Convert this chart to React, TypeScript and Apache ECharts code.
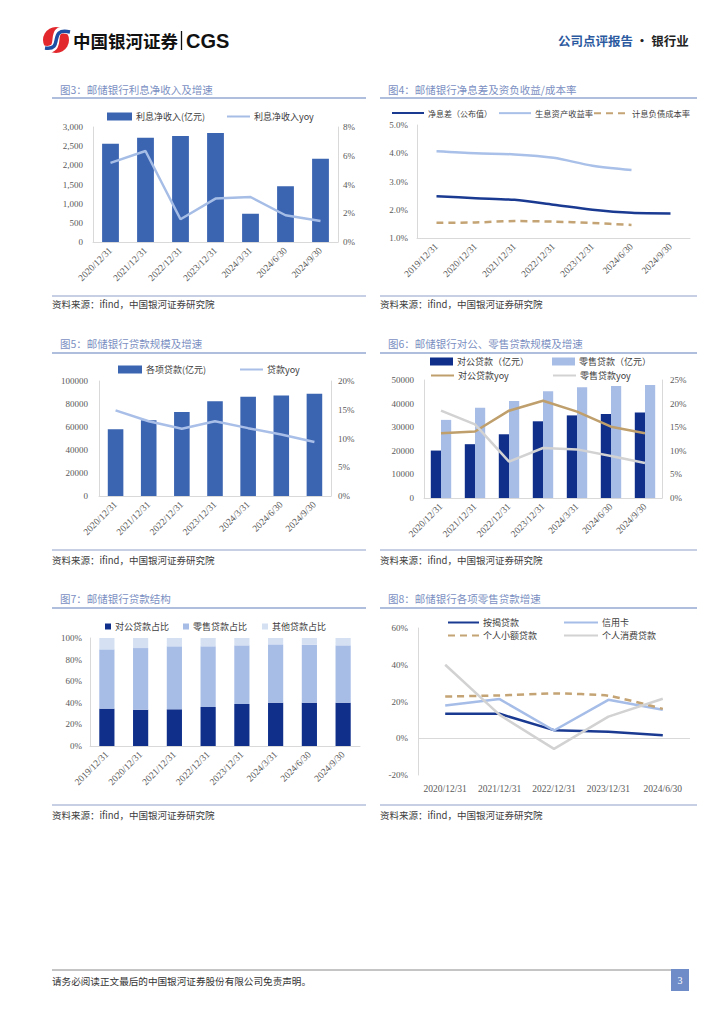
import React, { useEffect, useRef } from "react";
import * as echarts from "echarts";

// ---------- data ----------
const c3Cats = ["2020/12/31", "2021/12/31", "2022/12/31", "2023/12/31", "2024/3/31", "2024/6/30", "2024/9/30"];
const c3Nii = [2565, 2722, 2765, 2843, 739, 1452, 2174];
const c3Yoy = [5.5, 6.33, 1.58, 3.02, 3.13, 1.86, 1.46];

const c4Cats = ["2019/12/31", "2020/12/31", "2021/12/31", "2022/12/31", "2023/12/31", "2024/6/30", "2024/9/30"];
const c4Nim = [2.48, 2.41, 2.35, 2.18, 2.0, 1.89, 1.87];
const c4Yield = [4.07, 4.0, 3.96, 3.84, 3.56, 3.41];
const c4Cost = [1.54, 1.55, 1.6, 1.58, 1.53, 1.46];

const c5Cats = ["2020/12/31", "2021/12/31", "2022/12/31", "2023/12/31", "2024/3/31", "2024/6/30", "2024/9/30"];
const c5Loans = [58000, 65800, 73000, 82300, 86400, 87500, 89000];
const c5Yoy = [14.9, 13.0, 11.7, 13.0, 11.8, 10.7, 9.4];

const c6Cats = ["2020/12/31", "2021/12/31", "2022/12/31", "2023/12/31", "2024/3/31", "2024/6/30", "2024/9/30"];
const c6Corp = [20100, 22800, 27000, 32500, 35000, 35600, 36200];
const c6Retail = [33100, 38200, 41100, 45200, 46900, 47500, 47900];
const c6CorpYoy = [13.7, 14.1, 18.5, 20.6, 18.3, 15.1, 13.7];
const c6RetailYoy = [18.5, 15.6, 7.7, 10.6, 10.3, 8.9, 7.4];

const c7Cats = ["2019/12/31", "2020/12/31", "2021/12/31", "2022/12/31", "2023/12/31", "2024/3/31", "2024/6/30", "2024/9/30"];
const c7Corp = [34.6, 33.6, 34.0, 36.1, 38.9, 40.1, 40.1, 40.1];
const c7Retail = [54.9, 57.1, 58.3, 56.2, 54.3, 54.0, 53.7, 53.1];
const c7Other = [10.5, 9.3, 7.7, 7.7, 6.8, 5.9, 6.2, 6.8];

const c8Cats = ["2020/12/31", "2021/12/31", "2022/12/31", "2023/12/31", "2024/6/30"];
const c8Mortgage = [13.3, 13.3, 4.4, 3.6, 1.6];
const c8Card = [17.8, 21.3, 4.2, 20.9, 15.5];
const c8Micro = [22.7, 23.3, 24.4, 23.1, 16.0];
const c8Consumer = [40.0, 12.7, -5.8, 11.8, 21.5];

const titles = [
  "图3：邮储银行利息净收入及增速",
  "图4：邮储银行净息差及资负收益/成本率",
  "图5：邮储银行贷款规模及增速",
  "图6：邮储银行对公、零售贷款规模及增速",
  "图7：邮储银行贷款结构",
  "图8：邮储银行各项零售贷款增速",
];
const sourceText = "资料来源：ifind，中国银河证券研究院";
const footerText = "请务必阅读正文最后的中国银河证券股份有限公司免责声明。";

// ---------- styles ----------
const SERIF = "'Liberation Serif', 'Times New Roman', 'Noto Sans CJK SC', serif";
const CJK = "'Noto Sans CJK SC', sans-serif";
const AXIS_LINE = "#d9d9d9";
const LABEL = "#595959";

const BAR_BLUE = "#3b64b1";
const NAVY = "#0f2f8b";
const LIGHT_BLUE = "#a8bde6";
const PALE_BLUE = "#d5e0f3";
const TAN = "#bf9f6c";
const GRAY = "#d2d2d2";

function catAxis(gridIndex: number, data: string[], rotate: number) {
  return {
    type: "category",
    gridIndex,
    data,
    boundaryGap: true,
    axisLine: { show: true, lineStyle: { color: AXIS_LINE, width: 1 } },
    axisTick: { show: false },
    axisLabel: { rotate, color: LABEL, fontSize: 9.5, fontFamily: SERIF, margin: 7, interval: 0 },
    splitLine: { show: false },
  };
}

function valAxis(gridIndex: number, min: number, max: number, interval: number, fmt: (v: number) => string, position: string, margin: number, showLine = true) {
  return {
    type: "value",
    gridIndex,
    min,
    max,
    interval,
    position,
    axisLine: { show: showLine, lineStyle: { color: AXIS_LINE, width: 1 } },
    axisTick: { show: false },
    splitLine: { show: false },
    axisLabel: { color: LABEL, fontSize: 9, fontFamily: SERIF, margin, formatter: fmt },
  };
}

function leg(name: string, left: number, yc: number, w: number, h: number, isRect: boolean, fs = 9) {
  const o: any = {
    left,
    top: yc - 6,
    itemWidth: w,
    itemHeight: h,
    itemGap: 0,
    padding: 0,
    selectedMode: false,
    data: [isRect ? { name, icon: "rect" } : name],
    textStyle: { fontSize: fs, color: "#404040", fontFamily: CJK, padding: [0, 0, 0, -1] },
  };
  if (!isRect) o.itemStyle = { opacity: 0, borderWidth: 0 };
  return o;
}

function text(t: string, x: number, y: number, size: number, fill: string, extra: any = {}) {
  return {
    type: "text",
    x,
    y,
    style: { text: t, fontSize: size, fill, fontFamily: CJK, verticalAlign: "middle", align: "left", ...extra },
  };
}

function hline(x1: number, x2: number, y: number, stroke: string, lw: number) {
  return { type: "line", shape: { x1, y1: y, x2, y2: y }, style: { stroke, lineWidth: lw } };
}

const pct0 = (v: number) => `${v}%`;
const pct1 = (v: number) => `${v.toFixed(1)}%`;
const comma = (v: number) => v.toLocaleString("en-US");
const plain = (v: number) => `${v}`;

function buildOption() {
  const grids = [
    { left: 93, right: 724 - 338, top: 127, height: 115 },
    { left: 417, right: 724 - 690, top: 125, height: 113 },
    { left: 99, right: 724 - 331, top: 381, height: 115 },
    { left: 424, right: 724 - 662, top: 380, height: 118 },
    { left: 90, right: 724 - 360, top: 638, height: 108 },
    { left: 418, right: 724 - 690, top: 628, height: 147 },
  ].map((g) => ({ ...g, containLabel: false }));

  const xAxis = [
    catAxis(0, c3Cats, 45),
    catAxis(1, c4Cats, 45),
    catAxis(2, c5Cats, 45),
    catAxis(3, c6Cats, 45),
    catAxis(4, c7Cats, 45),
    { ...catAxis(5, c8Cats, 0), axisLine: { show: false, onZero: false }, axisLabel: { color: LABEL, fontSize: 9.5, fontFamily: SERIF, margin: 9, interval: 0 } },
  ];

  const yAxis = [
    valAxis(0, 0, 3000, 500, comma, "left", 10),
    valAxis(0, 0, 8, 2, pct0, "right", 5),
    valAxis(1, 1, 5, 1, pct1, "left", 9),
    valAxis(2, 0, 100000, 20000, plain, "left", 11),
    valAxis(2, 0, 20, 5, pct0, "right", 7),
    valAxis(3, 0, 50000, 10000, plain, "left", 10),
    valAxis(3, 0, 25, 5, pct0, "right", 8),
    valAxis(4, 0, 100, 20, pct0, "left", 8),
    valAxis(5, -20, 60, 20, pct0, "left", 10),
  ];

  const line = (name: string, xi: number, yi: number, data: number[], color: string, width = 2.5, extra: any = {}) => ({
    type: "line",
    name,
    xAxisIndex: xi,
    yAxisIndex: yi,
    data,
    symbol: "none",
    showSymbol: false,
    lineStyle: { color, width, ...(extra.lineStyle || {}) },
    itemStyle: { color },
    smooth: extra.smooth || false,
    z: 3,
    ...(extra.markLine ? { markLine: extra.markLine } : {}),
  });

  const series: any[] = [
    // Fig3
    { type: "bar", name: "利息净收入(亿元)", xAxisIndex: 0, yAxisIndex: 0, data: c3Nii, barWidth: "48%", itemStyle: { color: BAR_BLUE } },
    line("利息净收入yoy", 0, 1, c3Yoy, "#a6bde6"),
    // Fig4
    line("净息差（公布值）", 1, 2, c4Nim, "#1a3a92", 2.5, { smooth: 0.3 }),
    line("生息资产收益率", 1, 2, c4Yield, "#a9c0e8", 2.5, { smooth: 0.3 }),
    line("计息负债成本率", 1, 2, c4Cost, "#c4a474", 2.5, { smooth: 0.3, lineStyle: { type: [7, 5] } }),
    // Fig5
    { type: "bar", name: "各项贷款(亿元)", xAxisIndex: 2, yAxisIndex: 3, data: c5Loans, barWidth: "47%", itemStyle: { color: BAR_BLUE } },
    line("贷款yoy", 2, 4, c5Yoy, "#a9bfe8"),
    // Fig6
    { type: "bar", name: "对公贷款（亿元）", xAxisIndex: 3, yAxisIndex: 5, data: c6Corp, barWidth: "30%", barGap: "0%", itemStyle: { color: NAVY } },
    { type: "bar", name: "零售贷款（亿元）", xAxisIndex: 3, yAxisIndex: 5, data: c6Retail, barWidth: "30%", barGap: "0%", itemStyle: { color: LIGHT_BLUE } },
    line("对公贷款yoy", 3, 6, c6CorpYoy, TAN),
    line("零售贷款yoy", 3, 6, c6RetailYoy, GRAY),
    // Fig7
    { type: "bar", name: "对公贷款占比", xAxisIndex: 4, yAxisIndex: 7, stack: "s7", data: c7Corp, barWidth: "45%", itemStyle: { color: NAVY } },
    { type: "bar", name: "零售贷款占比", xAxisIndex: 4, yAxisIndex: 7, stack: "s7", data: c7Retail, barWidth: "45%", itemStyle: { color: LIGHT_BLUE } },
    { type: "bar", name: "其他贷款占比", xAxisIndex: 4, yAxisIndex: 7, stack: "s7", data: c7Other, barWidth: "45%", itemStyle: { color: PALE_BLUE } },
    // Fig8
    line("按揭贷款", 5, 8, c8Mortgage, "#1a3a92", 2.5, {
      markLine: {
        silent: true,
        symbol: "none",
        label: { show: false },
        lineStyle: { color: AXIS_LINE, width: 1, type: "solid" },
        data: [{ yAxis: 0 }],
        z: 1,
      },
    }),
    line("信用卡", 5, 8, c8Card, "#a6bde8"),
    line("个人小额贷款", 5, 8, c8Micro, "#c4a474", 2.5, { smooth: 0.2, lineStyle: { type: [7, 5] } }),
    line("个人消费贷款", 5, 8, c8Consumer, GRAY),
  ];

  const legend = [
    leg("利息净收入(亿元)", 107, 118, 25, 8, true),
    leg("利息净收入yoy", 226, 118, 23, 10, false),
    leg("净息差（公布值）", 391, 115, 32, 10, false, 8),
    leg("生息资产收益率", 498, 115, 32, 10, false, 8.3),
    leg("计息负债成本率", 593, 115, 34, 10, false, 8.3),
    leg("各项贷款(亿元)", 118, 371, 24, 8, true),
    leg("贷款yoy", 239, 371, 23, 10, false),
    leg("对公贷款（亿元）", 430, 363, 23, 8, true),
    leg("零售贷款（亿元）", 552, 363, 23, 8, true),
    leg("对公贷款yoy", 430, 377, 23, 10, false),
    leg("零售贷款yoy", 552, 377, 23, 10, false),
    leg("对公贷款占比", 105, 628, 6, 6, true),
    leg("零售贷款占比", 183, 628, 6, 6, true),
    leg("其他贷款占比", 262, 628, 6, 6, true),
    leg("按揭贷款", 447, 624, 31, 10, false),
    leg("信用卡", 563, 624, 34, 10, false),
    leg("个人小额贷款", 447, 637, 31, 10, false),
    leg("个人消费贷款", 563, 637, 34, 10, false),
  ];

  const UNDER = "#94a8d2";
  const SRC_LINE = "#8e9fc8";
  const TITLE_C = "#7b8fc2";
  const cols = [
    { x: 52, x2: 366, tx: 60 },
    { x: 380, x2: 697, tx: 388 },
  ];
  const rows = [
    { ty: 89, uy: 98, sy: 296, st: 304 },
    { ty: 343, uy: 353, sy: 550, st: 560 },
    { ty: 598, uy: 608, sy: 805, st: 815 },
  ];

  const graphic: any[] = [
    // logo
    { type: "circle", shape: { cx: 56, cy: 40, r: 13 }, style: { fill: "#e3282d" } },
    {
      type: "bezierCurve",
      shape: { x1: 69, y1: 31, cpx1: 45, cpy1: 25, cpx2: 67, cpy2: 53, x2: 43, y2: 49 },
      style: { stroke: "#ffffff", lineWidth: 7, fill: null },
    },
    {
      type: "bezierCurve",
      shape: { x1: 70, y1: 32, cpx1: 47, cpy1: 27, cpx2: 65, cpy2: 51, x2: 45, y2: 48 },
      style: { stroke: "#1e4ea3", lineWidth: 3.5, fill: null },
    },
    text("中国银河证券", 73, 40.5, 17.5, "#111111", { fontWeight: "bold" }),
    { type: "line", shape: { x1: 181.5, y1: 31, x2: 181.5, y2: 50 }, style: { stroke: "#111", lineWidth: 1.3 } },
    text("CGS", 186, 41, 20, "#111111", { fontWeight: "bold", fontFamily: "'Liberation Sans', Arial, sans-serif" }),
    {
      type: "text",
      x: 558,
      y: 40,
      style: {
        text: "{a|公司点评报告}{b| · 银行业}",
        verticalAlign: "middle",
        align: "left",
        fontFamily: CJK,
        rich: {
          a: { fontSize: 12.5, fontWeight: "bold", fill: "#2c5aa0", color: "#2c5aa0", fontFamily: CJK },
          b: { fontSize: 12.5, fontWeight: "bold", fill: "#222222", color: "#222222", fontFamily: CJK },
        },
      },
    },
    // footer
    hline(52, 671, 970, "#8a8a8a", 1),
    text(footerText, 52, 980.5, 9.6, "#333333"),
    { type: "rect", shape: { x: 671, y: 969, width: 18, height: 22 }, style: { fill: "#6f8cc8" } },
    text("3", 680, 980.5, 10, "#ffffff", { align: "center", fontFamily: SERIF }),
  ];

  titles.forEach((t, i) => {
    const c = cols[i % 2];
    const r = rows[Math.floor(i / 2)];
    graphic.push(text(t, c.tx, r.ty, 10.5, TITLE_C));
    graphic.push(hline(c.x, c.x2, r.uy, UNDER, 1.5));
    graphic.push(hline(c.x, c.x2, r.sy, SRC_LINE, 1.2));
    graphic.push(text(sourceText, c.x, r.st, 9.5, "#404040"));
  });

  return {
    animation: false,
    backgroundColor: "#ffffff",
    grid: grids,
    xAxis,
    yAxis,
    legend,
    series,
    graphic,
  };
}

export default function App() {
  const ref = useRef<HTMLDivElement>(null);
  useEffect(() => {
    if (!ref.current) return;
    const chart = echarts.init(ref.current, null, { renderer: "svg" });
    chart.setOption(buildOption() as any);
    return () => chart.dispose();
  }, []);
  return (
    <div
      ref={ref}
      style={{ position: "absolute", left: 0, top: 0, width: 724, height: 1024, background: "#fff" }}
    />
  );
}
